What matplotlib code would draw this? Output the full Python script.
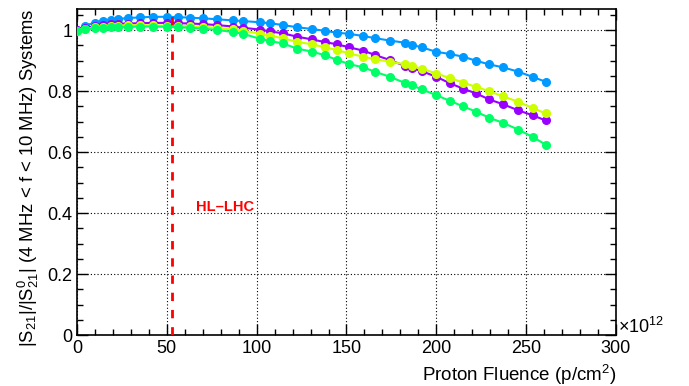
import numpy as np
import matplotlib.pyplot as plt
from matplotlib.ticker import MultipleLocator

plt.rcParams['font.family'] = ['Liberation Sans', 'DejaVu Sans']
plt.rcParams['mathtext.fontset'] = 'custom'
plt.rcParams['mathtext.rm'] = 'Liberation Sans'
plt.rcParams['mathtext.it'] = 'Liberation Sans'

# proton fluence in units of 1e12 p/cm^2
fluence = [0, 4.5, 10, 14.6, 19, 23, 28.5, 35, 42.5, 50, 56.4, 63, 70.3, 77.7,
           87, 92.5, 101.8, 107.4, 114.5, 122.3, 130.6, 138, 144.5, 151.5,
           159.3, 165.8, 174.2, 182.5, 186.2, 191.8, 200, 207.6, 215, 222,
           229.4, 237.2, 245.6, 253.6, 260.8]

s_blue = [1.000, 1.015, 1.025, 1.031, 1.034, 1.037, 1.040, 1.042, 1.044, 1.044,
          1.043, 1.041, 1.039, 1.036, 1.032, 1.030, 1.026, 1.023, 1.017, 1.010,
          1.004, 0.998, 0.992, 0.988, 0.981, 0.974, 0.966, 0.959, 0.952, 0.944,
          0.929, 0.922, 0.913, 0.900, 0.888, 0.878, 0.864, 0.847, 0.831]
s_purple = [1.000, 1.007, 1.013, 1.017, 1.019, 1.021, 1.022, 1.023, 1.024, 1.024,
            1.023, 1.022, 1.020, 1.017, 1.012, 1.008, 1.002, 0.996, 0.990, 0.979,
            0.970, 0.961, 0.954, 0.944, 0.933, 0.919, 0.902, 0.883, 0.876, 0.866,
            0.847, 0.826, 0.808, 0.793, 0.773, 0.757, 0.737, 0.721, 0.704]
s_yellow = [0.998, 1.004, 1.009, 1.012, 1.014, 1.015, 1.016, 1.016, 1.016, 1.015,
            1.014, 1.013, 1.011, 1.008, 1.003, 0.998, 0.989, 0.982, 0.974, 0.962,
            0.954, 0.944, 0.935, 0.924, 0.913, 0.905, 0.897, 0.888, 0.882, 0.874,
            0.858, 0.843, 0.828, 0.814, 0.800, 0.783, 0.765, 0.745, 0.727]
s_green = [0.998, 1.003, 1.006, 1.008, 1.010, 1.011, 1.011, 1.012, 1.012, 1.011,
           1.010, 1.008, 1.005, 1.001, 0.994, 0.988, 0.972, 0.964, 0.957, 0.940,
           0.930, 0.918, 0.903, 0.889, 0.878, 0.864, 0.847, 0.827, 0.820, 0.806,
           0.787, 0.768, 0.750, 0.733, 0.713, 0.696, 0.674, 0.650, 0.625]

hl_lhc = 53

fig = plt.figure(figsize=(6.89, 3.86), dpi=100)
ax = fig.add_axes([0.1118, 0.132, 0.7822, 0.845])

for s, c in [(s_blue, '#0099ff'), (s_purple, '#9900ff'),
             (s_yellow, '#ccff00'), (s_green, '#00ff66')]:
    ax.plot(fluence, s, color=c, lw=1.5, marker='o', ms=5.5, mec=c, zorder=3)

ax.axvline(hl_lhc, color='#ff0000', lw=2, ls=(0, (3, 3.2)), zorder=4)
ax.text(66, 0.42, 'HL\u2013LHC', color='#ff0000', fontsize=10.5,
        fontweight='bold', va='center')

ax.set_xlim(0, 300)
ax.set_ylim(0, 1.07)
ax.xaxis.set_major_locator(MultipleLocator(50))
ax.xaxis.set_minor_locator(MultipleLocator(10))
ax.yaxis.set_major_locator(MultipleLocator(0.2))
ax.yaxis.set_minor_locator(MultipleLocator(0.05))
ax.set_yticks([0, 0.2, 0.4, 0.6, 0.8, 1.0])
ax.set_yticklabels(['0', '0.2', '0.4', '0.6', '0.8', '1'])
ax.grid(True, which='major', color='black', ls=(0, (1, 2)), lw=0.8)
ax.tick_params(which='both', direction='in', top=True, right=True,
               labelsize=13, width=1)
ax.tick_params(which='major', length=8)
ax.tick_params(which='minor', length=4)
for sp in ax.spines.values():
    sp.set_linewidth(1.2)

ax.set_xlabel('Proton Fluence (p/cm$^{2}$)', fontsize=13.5, loc='right')
ax.set_ylabel(r'|S$_{21}$|/|S$^{0}_{21}$| (4 MHz < f < 10 MHz) Systems',
              fontsize=13.3, loc='top')
ax.text(1.003, -0.005, r'$\times$10$^{12}$', transform=ax.transAxes,
        fontsize=13, va='bottom', ha='left')

fig.savefig('out.png', dpi=100)
